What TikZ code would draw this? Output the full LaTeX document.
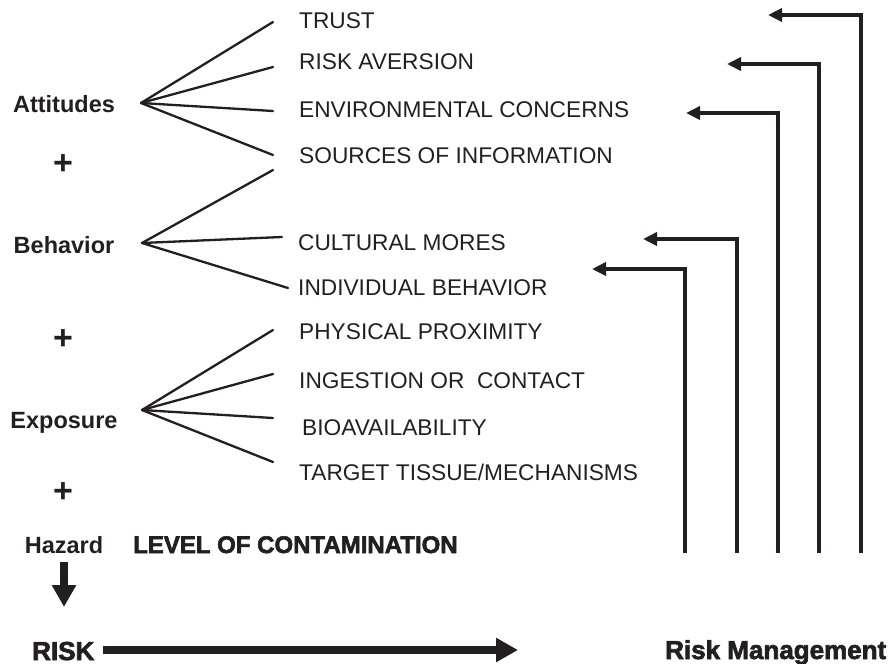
\documentclass[tikz,border=0pt]{standalone}
\usepackage{fontspec}
\setmainfont{Liberation Sans}
\newfontfamily\heavyfont[BoldFont={Liberation Sans Bold},BoldFeatures={FakeBold=2.5}]{Liberation Sans}
\usetikzlibrary{arrows.meta}
\definecolor{ink}{RGB}{35,31,32}

\begin{document}
\begin{tikzpicture}[x=1pt,y=-1pt,
  item/.style={anchor=base west, inner sep=0pt, text=ink, font=\fontsize{22.7}{27}\selectfont},
  group/.style={anchor=base, inner sep=0pt, text=ink, font=\fontsize{23.5}{28}\selectfont\bfseries},
  plus/.style={inner sep=0pt, text=ink, font=\fontsize{34}{34}\selectfont\bfseries},
  heavy/.style={anchor=base west, inner sep=0pt, text=ink, font=\fontsize{24}{28}\selectfont\heavyfont\bfseries},
  big/.style={anchor=base west, inner sep=0pt, text=ink, font=\fontsize{26}{30}\selectfont\heavyfont\bfseries},
  fan/.style={draw=ink, line width=2.3pt, line cap=round},
  feedback/.style={draw=ink, line width=4pt, -{Triangle[length=14pt,width=13pt]}},
  bigarrow/.style={draw=ink, line width=8pt, -{Triangle[length=22pt,width=23pt]}}]

\useasboundingbox (0,0) rectangle (892,664);

% left-hand components of risk
\node[group] (att) at (64,112) {Attitudes};
\node[plus]  (p1)  at (63,165) {+};
\node[group] (beh) at (64,253) {Behavior};
\node[plus]  (p2)  at (63,340) {+};
\node[group] (exp) at (64,428) {Exposure};
\node[plus]  (p3)  at (63,493) {+};
\node[group] (haz) at (64,553) {Hazard};
\node[heavy] (loc) at (133,553) {LEVEL OF CONTAMINATION};

% factor labels
\node[item] (trust) at (299,28)  {TRUST};
\node[item] (avers) at (299,69)  {RISK AVERSION};
\node[item] (env)   at (299,117) {ENVIRONMENTAL CONCERNS};
\node[item] (src)   at (299,163) {SOURCES OF INFORMATION};
\node[item] (cult)  at (298,250) {CULTURAL MORES};
\node[item] (indiv) at (298,295) {INDIVIDUAL BEHAVIOR};
\node[item] (phys)  at (299,339) {PHYSICAL PROXIMITY};
\node[item] (ingest) at (299,388) {INGESTION OR\ \ CONTACT};
\node[item] (bio)   at (302,435) {BIOAVAILABILITY};
\node[item] (tgt)   at (299,480) {TARGET TISSUE/MECHANISMS};

% fan apexes and line ends
\coordinate (a1) at (141,103);
\coordinate (a2) at (142,243);
\coordinate (a3) at (142,410);

\coordinate (e11) at (273,22);
\coordinate (e12) at (273,67);
\coordinate (e13) at (273,111);
\coordinate (e14) at (273,155);
\coordinate (e21) at (273,170);
\coordinate (e22) at (282,237);
\coordinate (e23) at (288,288);
\coordinate (e31) at (273,330);
\coordinate (e32) at (273,374);
\coordinate (e33) at (273,418);
\coordinate (e34) at (273,462);

\foreach \e in {e11,e12,e13,e14} \draw[fan] (a1) -- (\e);
\foreach \e in {e21,e22,e23} \draw[fan] (a2) -- (\e);
\foreach \e in {e31,e32,e33,e34} \draw[fan] (a3) -- (\e);

% hazard leads to risk
\coordinate (hz1) at (64,562);
\coordinate (hz2) at (64,607);
\draw[bigarrow] (hz1) -- (hz2);

\node[big] (risk) at (32,660) {RISK};
\coordinate (r1) at (103,650);
\coordinate (r2) at (518,650);
\draw[bigarrow] (r1) -- (r2);

\node[big] (mgmt) at (665,659) {Risk Management};

% feedback from risk management
\coordinate (b1) at (861,553); \coordinate (t1) at (768,15);
\coordinate (b2) at (819,553); \coordinate (t2) at (727,64);
\coordinate (b3) at (778,553); \coordinate (t3) at (686,113);
\coordinate (b4) at (737,553); \coordinate (t4) at (643,239);
\coordinate (b5) at (685,553); \coordinate (t5) at (592,269);
\foreach \i in {1,...,5} \draw[feedback] (b\i) |- (t\i);

\end{tikzpicture}
\end{document}
